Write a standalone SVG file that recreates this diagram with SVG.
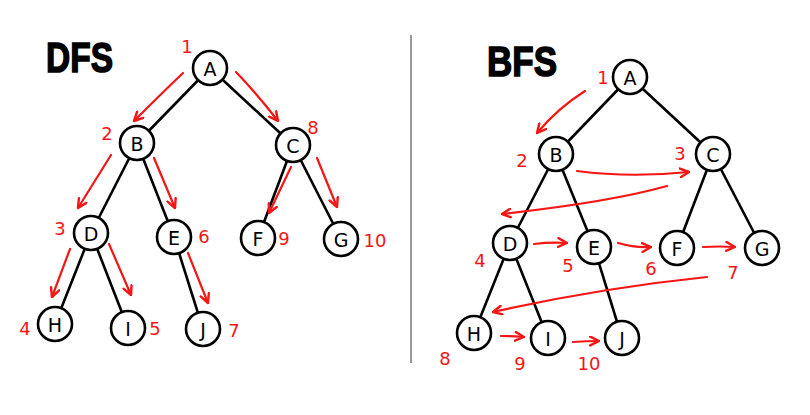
<svg xmlns="http://www.w3.org/2000/svg" width="810" height="415" viewBox="0 0 810 415">
<defs>
<marker id="ah" viewBox="0 0 10 10" refX="9" refY="5" markerWidth="11" markerHeight="11" markerUnits="userSpaceOnUse" orient="auto">
<path d="M1,1 L9,5 L1,9" fill="none" stroke="#f51515" stroke-width="2.2" stroke-linecap="round" stroke-linejoin="round"/>
</marker>
</defs>
<style>
.edge{stroke:#000;stroke-width:2.6;fill:none}
.nd circle{fill:#fff;stroke:#000;stroke-width:2.6}
.nd text{font-family:"DejaVu Sans","Liberation Sans",sans-serif;font-size:19px;fill:#000;text-anchor:middle;dominant-baseline:central}
.tr{stroke:#f51515;stroke-width:2.2;fill:none;stroke-linecap:round;marker-end:url(#ah)}
.num{font-family:"DejaVu Sans","Liberation Sans",sans-serif;font-size:18px;fill:#f51515;text-anchor:middle;dominant-baseline:central}
.title{font-family:"Liberation Sans",sans-serif;font-weight:bold;font-size:42px;fill:#000;stroke:#000;stroke-width:1.5}
</style>
<rect width="810" height="415" fill="#fff"/>
<line x1="411" y1="35" x2="411" y2="363" stroke="#999" stroke-width="2"/>
<text class="title" x="46" y="72" textLength="67" lengthAdjust="spacingAndGlyphs">DFS</text>
<text class="title" x="487" y="76" textLength="70" lengthAdjust="spacingAndGlyphs">BFS</text>
<g id="edges">
<line class="edge" x1="210" y1="68" x2="137" y2="143"/>
<line class="edge" x1="210" y1="68" x2="293" y2="145"/>
<line class="edge" x1="137" y1="143" x2="91" y2="233"/>
<line class="edge" x1="137" y1="143" x2="174" y2="237"/>
<line class="edge" x1="293" y1="145" x2="258" y2="238"/>
<line class="edge" x1="293" y1="145" x2="341" y2="239"/>
<line class="edge" x1="91" y1="233" x2="55" y2="324"/>
<line class="edge" x1="91" y1="233" x2="128" y2="328"/>
<line class="edge" x1="174" y1="237" x2="203" y2="329"/>
<line class="edge" x1="630" y1="77" x2="556" y2="154"/>
<line class="edge" x1="630" y1="77" x2="713" y2="154"/>
<line class="edge" x1="556" y1="154" x2="510" y2="243"/>
<line class="edge" x1="556" y1="154" x2="594" y2="247"/>
<line class="edge" x1="713" y1="154" x2="677" y2="248"/>
<line class="edge" x1="713" y1="154" x2="762" y2="248"/>
<line class="edge" x1="510" y1="243" x2="474" y2="333"/>
<line class="edge" x1="510" y1="243" x2="548" y2="338"/>
<line class="edge" x1="594" y1="247" x2="622" y2="338"/>
</g>
<g id="traversal">
<path class="tr" d="M183,73 Q160,95 134,121"/>
<path class="tr" d="M236,72 Q258,95 278,121"/>
<path class="tr" d="M111,155 L78,208"/>
<path class="tr" d="M154,158 L175,208"/>
<path class="tr" d="M291,167 L269,213"/>
<path class="tr" d="M317,158 L337,207"/>
<path class="tr" d="M70,249 L52,297"/>
<path class="tr" d="M109,244 L131,295"/>
<path class="tr" d="M188,253 L208,303"/>
<path class="tr" d="M585,91 Q558,108 537,133"/>
<path class="tr" d="M577,171 Q630,178 689,172"/>
<path class="tr" d="M667,186 Q610,202 502,214"/>
<path class="tr" d="M534,244 Q550,242 567,243"/>
<path class="tr" d="M618,243 Q635,248 651,247"/>
<path class="tr" d="M703,247 Q720,246 735,247"/>
<path class="tr" d="M707,277 Q600,288 493,312"/>
<path class="tr" d="M501,336 Q512,336 524,337"/>
<path class="tr" d="M573,342 Q586,341 599,341"/>
</g>
<g id="dfs-A" class="nd"><circle cx="210" cy="68" r="17"/><text x="210" y="69">A</text></g>
<g id="dfs-B" class="nd"><circle cx="137" cy="143" r="17"/><text x="137" y="144">B</text></g>
<g id="dfs-C" class="nd"><circle cx="293" cy="145" r="17"/><text x="293" y="146">C</text></g>
<g id="dfs-D" class="nd"><circle cx="91" cy="233" r="17"/><text x="91" y="234">D</text></g>
<g id="dfs-E" class="nd"><circle cx="174" cy="237" r="17"/><text x="174" y="238">E</text></g>
<g id="dfs-F" class="nd"><circle cx="258" cy="238" r="17"/><text x="258" y="239">F</text></g>
<g id="dfs-G" class="nd"><circle cx="341" cy="239" r="17"/><text x="341" y="240">G</text></g>
<g id="dfs-H" class="nd"><circle cx="55" cy="324" r="17"/><text x="55" y="325">H</text></g>
<g id="dfs-I" class="nd"><circle cx="128" cy="328" r="17"/><text x="128" y="329">I</text></g>
<g id="dfs-J" class="nd"><circle cx="203" cy="329" r="17"/><text x="203" y="330">J</text></g>
<g id="bfs-A" class="nd"><circle cx="630" cy="77" r="17"/><text x="630" y="78">A</text></g>
<g id="bfs-B" class="nd"><circle cx="556" cy="154" r="17"/><text x="556" y="155">B</text></g>
<g id="bfs-C" class="nd"><circle cx="713" cy="154" r="17"/><text x="713" y="155">C</text></g>
<g id="bfs-D" class="nd"><circle cx="510" cy="243" r="17"/><text x="510" y="244">D</text></g>
<g id="bfs-E" class="nd"><circle cx="594" cy="247" r="17"/><text x="594" y="248">E</text></g>
<g id="bfs-F" class="nd"><circle cx="677" cy="248" r="17"/><text x="677" y="249">F</text></g>
<g id="bfs-G" class="nd"><circle cx="762" cy="248" r="17"/><text x="762" y="249">G</text></g>
<g id="bfs-H" class="nd"><circle cx="474" cy="333" r="17"/><text x="474" y="334">H</text></g>
<g id="bfs-I" class="nd"><circle cx="548" cy="338" r="17"/><text x="548" y="339">I</text></g>
<g id="bfs-J" class="nd"><circle cx="622" cy="338" r="17"/><text x="622" y="339">J</text></g>
<g id="labels">
<text class="num" x="187" y="46">1</text>
<text class="num" x="107" y="133">2</text>
<text class="num" x="313" y="127">8</text>
<text class="num" x="60" y="228">3</text>
<text class="num" x="204" y="236">6</text>
<text class="num" x="284" y="238">9</text>
<text class="num" x="375" y="240">10</text>
<text class="num" x="25" y="328">4</text>
<text class="num" x="155" y="328">5</text>
<text class="num" x="234" y="330">7</text>
<text class="num" x="603" y="77">1</text>
<text class="num" x="522" y="160">2</text>
<text class="num" x="680" y="153">3</text>
<text class="num" x="480" y="260">4</text>
<text class="num" x="568" y="265">5</text>
<text class="num" x="651" y="268">6</text>
<text class="num" x="733" y="272">7</text>
<text class="num" x="445" y="358">8</text>
<text class="num" x="520" y="363">9</text>
<text class="num" x="589" y="363">10</text>
</g>
</svg>
